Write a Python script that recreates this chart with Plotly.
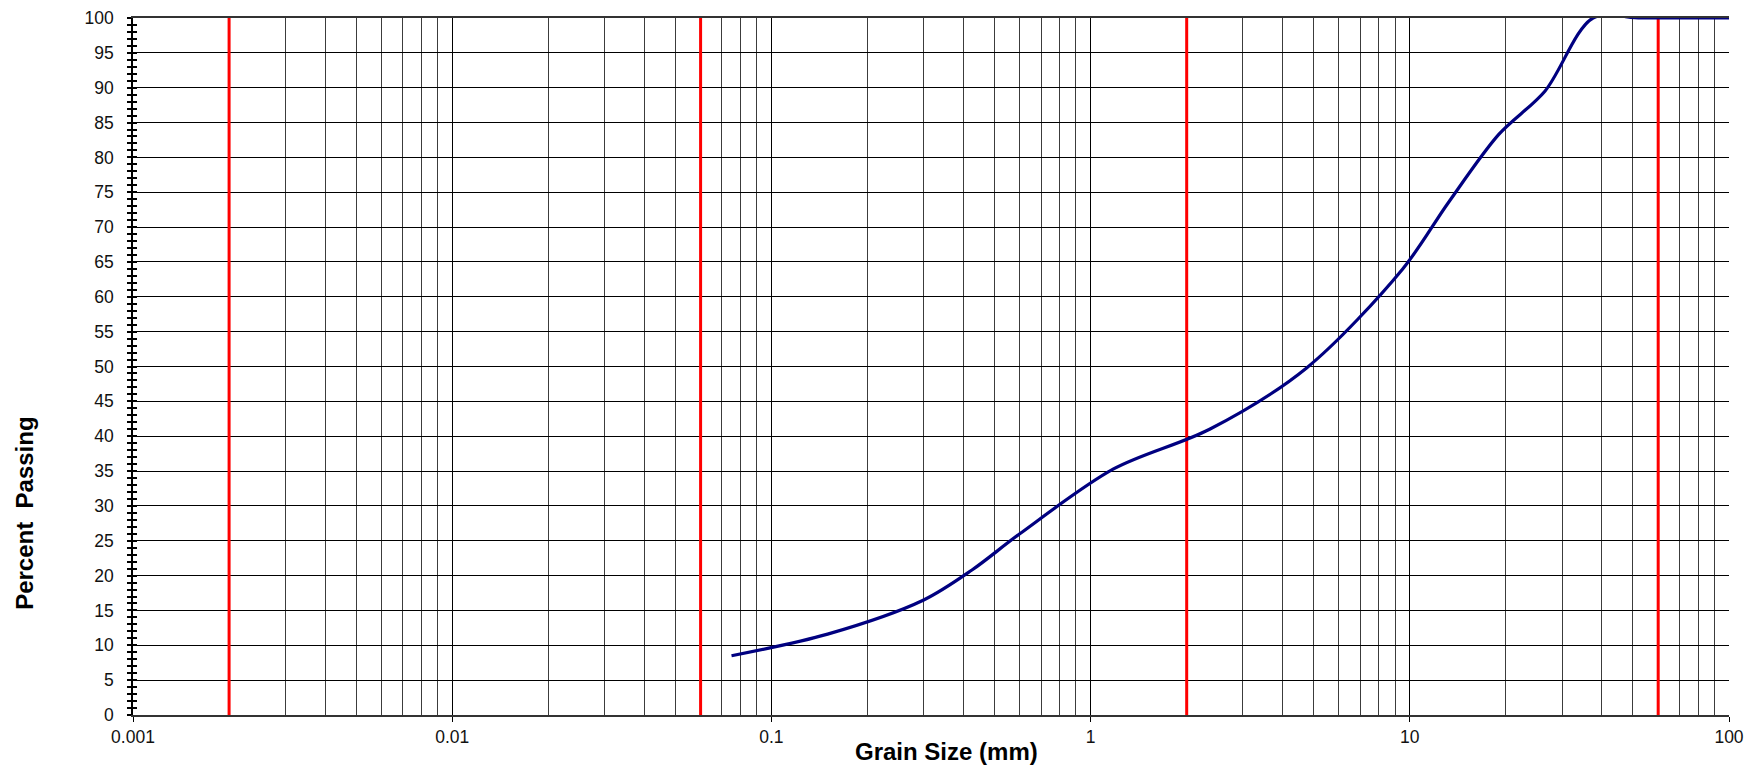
import plotly.graph_objects as go


# sieve analysis: grain size (mm) vs percent passing
grain_size = [0.075, 0.15, 0.3, 0.425, 0.6, 1.18, 2.36, 4.75, 9.5, 13.2, 19, 26.5, 37.5, 53, 75, 100]
percent_passing = [8.5, 11.6, 16.5, 20.8, 26.0, 35.3, 41.0, 49.8, 64.0, 73.5, 83.3, 89.5, 100, 100, 100, 100]

# soil class boundaries (clay/silt, silt/sand, sand/gravel, gravel/cobble)
boundaries = [0.002, 0.06, 2, 60]

x_tickvals = [0.001, 0.01, 0.1, 1, 10, 100]
x_ticktext = ["0.001", "0.01", "0.1", "1", "10", "100"]

CURVE_COLOR = "#000080"
BOUNDARY_COLOR = "#FF0000"
FONT = "Liberation Sans, Arial, sans-serif"

minor_vals = [m * 10 ** e for e in range(-3, 2) for m in range(2, 10)]

fig = go.Figure()

for b in boundaries:
    fig.add_trace(
        go.Scatter(
            x=[b, b],
            y=[0, 100],
            mode="lines",
            line={"color": BOUNDARY_COLOR, "width": 3},
            showlegend=False,
            hoverinfo="skip",
        )
    )

fig.add_trace(
    go.Scatter(
        x=grain_size,
        y=percent_passing,
        mode="lines",
        line={"color": CURVE_COLOR, "width": 3.2, "shape": "spline", "smoothing": 0.9},
        showlegend=False,
    )
)

# empty trace so the overlay axis (inner half of the crossing ticks) is drawn
fig.add_trace(go.Scatter(x=[], y=[], yaxis="y2", showlegend=False, hoverinfo="skip"))

# the page body adds an 8px offset, so margins are shifted to compensate
fig.update_layout(
    width=1761,
    height=765,
    margin={"l": 125, "r": 40, "t": 10, "b": 58},
    paper_bgcolor="white",
    plot_bgcolor="white",
    font={"family": FONT, "color": "#111111", "size": 17},
    showlegend=False,
    annotations=[
        {
            "text": "<b>Grain Size (mm)</b>",
            "xref": "paper",
            "yref": "paper",
            "x": 0.51,
            "y": -0.053,
            "xanchor": "center",
            "yanchor": "middle",
            "showarrow": False,
            "font": {"size": 24, "family": FONT, "color": "black"},
        },
        {
            "text": "<b>Percent\u00a0\u00a0Passing</b>",
            "xref": "paper",
            "yref": "paper",
            "x": -0.0677,
            "y": 0.29,
            "xanchor": "center",
            "yanchor": "middle",
            "textangle": -90,
            "showarrow": False,
            "font": {"size": 24, "family": FONT, "color": "black"},
        },
    ],
)

fig.update_xaxes(
    type="log",
    range=[-3, 2],
    automargin=False,
    tickmode="array",
    tickvals=x_tickvals,
    ticktext=x_ticktext,
    ticks="outside",
    ticklen=5,
    tickcolor="black",
    tickfont={"size": 17.5, "color": "#111111"},
    ticklabeloverflow="allow",
    showgrid=True,
    gridcolor="black",
    gridwidth=1.2,
    minor={
        "tickmode": "array",
        "tickvals": minor_vals,
        "showgrid": True,
        "gridcolor": "#3c3c3c",
        "gridwidth": 1,
        "ticks": "",
    },
    showline=True,
    linecolor="#333333",
    linewidth=1.6,
    mirror=True,
    zeroline=False,
)

fig.update_yaxes(
    range=[0, 100],
    automargin=False,
    dtick=5,
    ticks="outside",
    ticklen=4,
    tickwidth=1.5,
    tickcolor="black",
    ticklabelstandoff=10,
    ticklabeloverflow="allow",
    tickfont={"size": 17.5, "color": "#111111"},
    showgrid=True,
    gridcolor="black",
    gridwidth=1.3,
    minor={"dtick": 1, "ticks": "outside", "ticklen": 4, "tickwidth": 1.5, "tickcolor": "black", "showgrid": False},
    showline=True,
    linecolor="black",
    linewidth=1.5,
    zeroline=False,
)

fig.update_layout(
    yaxis2={
        "overlaying": "y",
        "anchor": "x",
        "side": "left",
        "automargin": False,
        "range": [0, 100],
        "dtick": 5,
        "showgrid": False,
        "showticklabels": False,
        "zeroline": False,
        "showline": False,
        "ticks": "inside",
        "ticklen": 4,
        "tickwidth": 1.5,
        "tickcolor": "black",
        "minor": {"dtick": 1, "ticks": "inside", "ticklen": 4, "tickwidth": 1.5, "tickcolor": "black"},
    }
)

fig.write_html("out.html")
